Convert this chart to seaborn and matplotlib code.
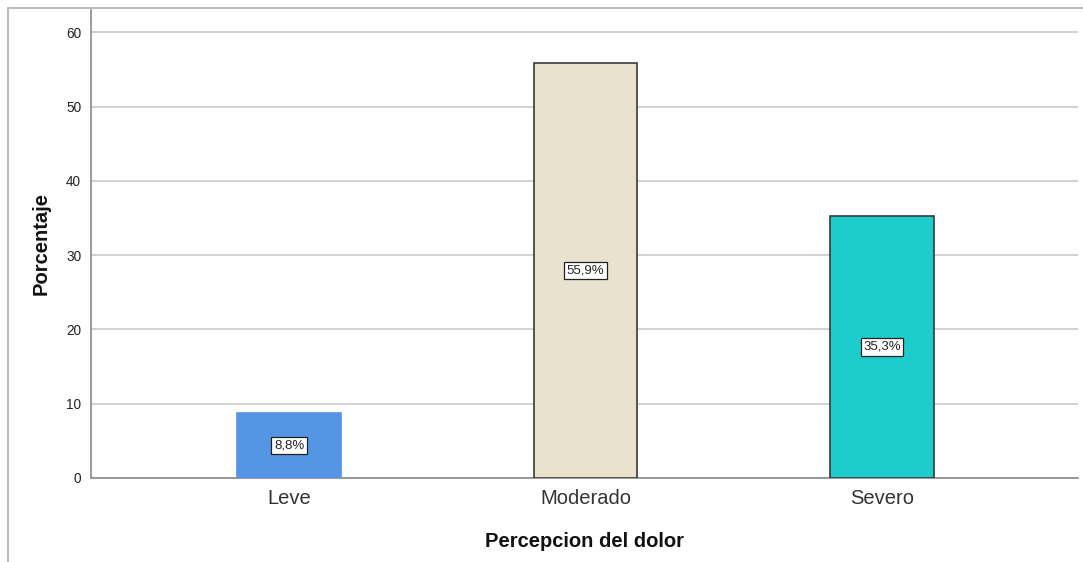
import matplotlib
matplotlib.use("Agg")
import matplotlib.pyplot as plt
import seaborn as sns
import pandas as pd
from matplotlib.lines import Line2D

categories = ["Leve", "Moderado", "Severo"]
percentages = [8.8, 55.9, 35.3]
bar_colors = ["#5495E5", "#E9E3CD", "#1DCDCB"]
edge_colors = ["#5495E5", "#3A3A3A", "#3A3A3A"]
y_ticks = [0, 10, 20, 30, 40, 50, 60]

df = pd.DataFrame({"categoria": categories, "porcentaje": percentages})

sns.set_theme(style="white")
plt.rcParams["font.family"] = ["Liberation Sans", "DejaVu Sans"]

fig = plt.figure(figsize=(10.83, 5.62), dpi=100)
ax = fig.add_axes([0.084, 0.1495, 0.9114, 0.8327])

sns.barplot(data=df, x="categoria", y="porcentaje", hue="categoria",
            palette=bar_colors, width=0.35, legend=False, ax=ax, zorder=3,
            saturation=1)

for patch, ec in zip(ax.patches, edge_colors):
    patch.set_edgecolor(ec)
    patch.set_linewidth(1.2)

# value labels at the middle of each bar
for i, v in enumerate(percentages):
    ax.text(i, v / 2, f"{v:.1f}%".replace(".", ","), ha="center", va="center",
            fontsize=9.5, color="#222222", zorder=5,
            bbox=dict(boxstyle="square,pad=0.2", facecolor="white",
                      edgecolor="#222222", linewidth=0.9))

ax.set_xlim(-0.668, 2.661)
ax.set_ylim(0, 63)
ax.set_yticks(y_ticks)
ax.yaxis.grid(True, color="#D2D2D2", linewidth=1.4, zorder=0)
ax.set_axisbelow(True)

ax.tick_params(axis="y", labelsize=9.8, colors="#222222", length=0, pad=7)
ax.tick_params(axis="x", labelsize=14.5, colors="#333333", length=0, pad=8)

for side in ["top", "right"]:
    ax.spines[side].set_visible(False)
for side in ["left", "bottom"]:
    ax.spines[side].set_color("#8A8A8A")
    ax.spines[side].set_linewidth(1.2)

ax.set_xlabel("Percepcion del dolor", fontsize=14.5, fontweight="bold",
              color="#111111", labelpad=17)
ax.set_ylabel("Porcentaje", fontsize=14.5, fontweight="bold",
              color="#111111", labelpad=11)

# outer chart frame (top and left edges)
fig.add_artist(Line2D([8 / 1083, 8 / 1083], [0.0, 1 - 8 / 562],
                      transform=fig.transFigure, color="#BDBDBD", linewidth=1.5))
fig.add_artist(Line2D([8 / 1083, 1.0], [1 - 8 / 562, 1 - 8 / 562],
                      transform=fig.transFigure, color="#BDBDBD", linewidth=1.5))

fig.savefig("out.png", dpi=100)
